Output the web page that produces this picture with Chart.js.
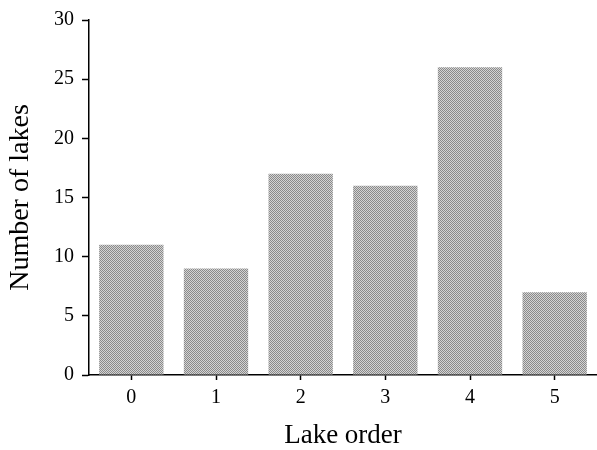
<!DOCTYPE html>
<html>
<head>
<meta charset="utf-8">
<script src="https://cdn.jsdelivr.net/npm/chart.js@4/dist/chart.umd.min.js"></script>
<style>
  html, body { margin: 0; padding: 0; background: #fff; }
  #wrap { width: 597px; height: 450px; }
</style>
</head>
<body>
<div id="wrap"><canvas id="lakeChart"></canvas></div>
<script>
const lakeOrders = ['0', '1', '2', '3', '4', '5'];
const lakeCounts = [11, 9, 17, 16, 26, 7];
const yTicks = [0, 5, 10, 15, 20, 25, 30];

// dithered grey fill like the scanned figure
function ditherPattern() {
  const c = document.createElement('canvas');
  c.width = 2; c.height = 2;
  const g = c.getContext('2d');
  g.fillStyle = '#d4d4d4';
  g.fillRect(0, 0, 2, 2);
  g.fillStyle = '#8a8a8a';
  g.fillRect(0, 0, 1, 1);
  g.fillRect(1, 1, 1, 1);
  return g.createPattern(c, 'repeat');
}

const serif = 'Liberation Serif';

new Chart(document.getElementById('lakeChart'), {
  type: 'bar',
  data: {
    labels: lakeOrders,
    datasets: [{
      data: lakeCounts,
      backgroundColor: ditherPattern(),
      borderWidth: 0,
      barPercentage: 0.76,
      categoryPercentage: 1
    }]
  },
  options: {
    responsive: true,
    maintainAspectRatio: false,
    animation: false,
    layout: { padding: { top: 19, right: 0, left: 0, bottom: 0 } },
    plugins: {
      legend: { display: false },
      tooltip: { enabled: false }
    },
    scales: {
      x: {
        grid: { offset: false, drawOnChartArea: false, tickLength: 5, color: '#000', tickWidth: 1.5 },
        border: { color: '#000', width: 1.5 },
        ticks: { color: '#000', font: { family: serif, size: 20 }, padding: 6 },
        title: { display: true, text: 'Lake order', color: '#000', font: { family: serif, size: 27, lineHeight: 1 }, padding: { top: 4, bottom: 1 } },
        afterFit: s => { s.height = 75; }
      },
      y: {
        min: 0,
        max: 30,
        afterBuildTicks: s => { s.ticks = yTicks.map(v => ({ value: v })); },
        grid: { drawOnChartArea: false, tickLength: 7, color: '#000', tickWidth: 1.5 },
        border: { color: '#000', width: 1.5 },
        ticks: { color: '#000', font: { family: serif, size: 20 }, padding: 8 },
        title: { display: true, text: 'Number of lakes', color: '#000', font: { family: serif, size: 28 }, padding: { top: 4, bottom: 4 } },
        afterFit: s => { s.width = 89; }
      }
    }
  }
});
</script>
</body>
</html>
